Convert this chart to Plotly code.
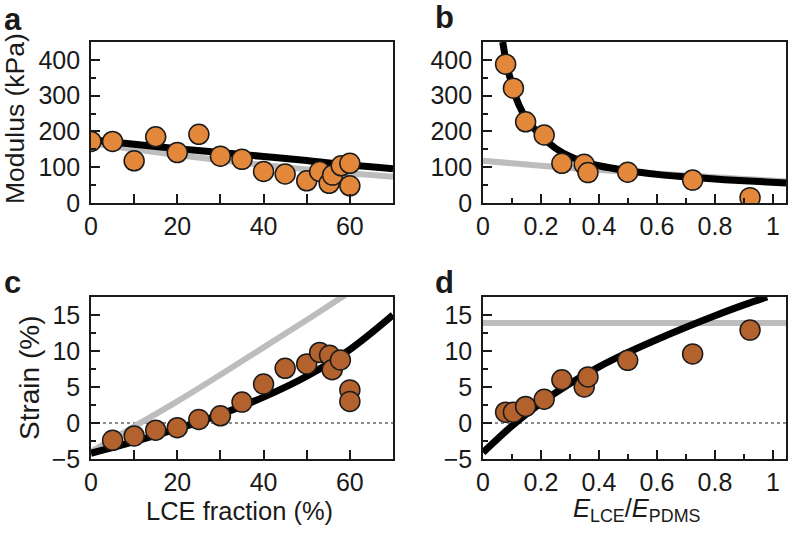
import plotly.graph_objects as go

# ---------------- data ----------------
lce_frac_a = [0, 5, 10, 15, 20, 25, 30, 35, 40, 45, 50, 53, 55.2, 56, 58, 60, 60]
modulus_a = [172, 172, 118, 185, 141, 192, 131, 122, 88, 81, 62, 88, 55, 78, 104, 111, 48]

fit_frac = [0, 10, 20, 30, 40, 50, 60, 70]
modulus_fit_black = [177, 164, 152, 141, 130, 119, 106, 96]
modulus_fit_gray = [168, 150, 134, 120, 106, 94, 83, 73]

ratio = [0.078, 0.105, 0.147, 0.211, 0.272, 0.349, 0.362, 0.499, 0.723, 0.921]
modulus_b = [388, 321, 227, 190, 111, 108, 85, 86, 64, 15]

ratio_fit_b = [0.068, 0.08, 0.1, 0.125, 0.15, 0.2, 0.25, 0.3, 0.35, 0.4, 0.5, 0.6, 0.7, 0.8, 0.9, 1.045]
modulus_fit_b_black = [450, 395, 330, 272, 235, 188, 153, 130, 115, 104, 90, 80, 73, 67, 62, 56]
ratio_fit_b_gray = [0, 0.1, 0.2, 0.3, 0.4, 0.5, 0.6, 0.7, 0.8, 0.9, 1.045]
modulus_fit_b_gray = [118, 111, 104, 98, 92, 87, 82, 77, 72, 67, 61]

lce_frac_c = [5, 10, 15, 20, 25, 30, 35, 40, 45, 50, 53, 55.3, 55.9, 57.8, 60, 60]
strain_c = [-2.4, -1.8, -1.0, -0.65, 0.5, 1.0, 2.9, 5.4, 7.6, 8.2, 9.8, 9.4, 7.4, 8.75, 4.6, 3.0]
strain_fit_c_black = [-4.2, -2.6, -0.8, 1.2, 3.6, 6.5, 10.2, 15.0]
fit_frac_c_gray = [0, 10, 20, 30, 40, 50, 60]
strain_fit_c_gray = [-4.0, -0.5, 3.0, 6.7, 10.5, 14.3, 18.2]

strain_d = [1.5, 1.5, 2.3, 3.3, 6.0, 5.0, 6.4, 8.7, 9.6, 12.9]
ratio_fit_d = [0, 0.1, 0.2, 0.3, 0.4, 0.5, 0.6, 0.7, 0.8, 0.9, 0.98]
strain_fit_d_black = [-4.1, -0.4, 2.8, 5.5, 7.8, 9.8, 11.6, 13.3, 14.9, 16.4, 17.5]
ratio_fit_d_gray = [0, 1.045]
strain_fit_d_gray = [13.9, 13.9]

x_ticks_frac = [0, 20, 40, 60]
x_ticks_ratio = [0, 0.2, 0.4, 0.6, 0.8, 1]
x_ticklabels_ratio = ["0", "0.2", "0.4", "0.6", "0.8", "1"]
y_ticks_mod = [0, 100, 200, 300, 400]
y_ticks_strain = [-5, 0, 5, 10, 15]

# ---------------- styles ----------------
ORANGE = "#E3873A"
BROWN = "#B3622E"
GRAY = "#BDBDBD"
INK = "#1a1a1a"
FONT = "Liberation Sans, Arial, Helvetica, sans-serif"

fig = go.Figure()


def line(x, y, color, width, xa, ya):
    fig.add_trace(go.Scatter(x=x, y=y, mode="lines", line=dict(color=color, width=width, shape="spline"),
                             xaxis=xa, yaxis=ya, hoverinfo="skip", showlegend=False))


def pts(x, y, color, xa, ya):
    fig.add_trace(go.Scatter(x=x, y=y, mode="markers",
                             marker=dict(size=20, color=color, line=dict(color=INK, width=1.5)),
                             xaxis=xa, yaxis=ya, showlegend=False))


# panel a
line(fit_frac, modulus_fit_gray, GRAY, 6, "x", "y")
line(fit_frac, modulus_fit_black, "black", 7, "x", "y")
pts(lce_frac_a, modulus_a, ORANGE, "x", "y")
# panel b
line(ratio_fit_b_gray, modulus_fit_b_gray, GRAY, 6, "x2", "y2")
line(ratio_fit_b, modulus_fit_b_black, "black", 7, "x2", "y2")
pts(ratio, modulus_b, ORANGE, "x2", "y2")
# panel c
line(fit_frac_c_gray, strain_fit_c_gray, GRAY, 6, "x3", "y3")
line(fit_frac, strain_fit_c_black, "black", 7, "x3", "y3")
pts(lce_frac_c, strain_c, BROWN, "x3", "y3")
# panel d
line(ratio_fit_d_gray, strain_fit_d_gray, GRAY, 6, "x4", "y4")
line(ratio_fit_d, strain_fit_d_black, "black", 7, "x4", "y4")
pts(ratio, strain_d, BROWN, "x4", "y4")

# zero reference lines (dotted)
for xr, yr in (("x3 domain", "y3"), ("x4 domain", "y4")):
    fig.add_shape(type="line", xref=xr, yref=yr, x0=0, x1=1, y0=0, y1=0,
                  line=dict(color=INK, width=1, dash="dot"), layer="below")

L = [91 / 788, 393 / 788]
R = [483 / 788, 786 / 788]
T = [1 - 203 / 533, 1 - 42 / 533]
B = [1 - 459 / 533, 1 - 297 / 533]

axis_common = dict(showgrid=False, zeroline=False, showline=True, linecolor=INK, linewidth=1.6,
                   mirror=True, ticks="inside", tickcolor=INK, tickwidth=1.5, automargin=False,
                   tickfont=dict(family=FONT, size=25, color=INK))


def xax(dom, rng, tickvals, ticktext, minor_dtick, minor_len, anchor):
    return dict(axis_common, domain=dom, range=rng, tickmode="array", tickvals=tickvals,
                ticktext=ticktext, ticklen=9, anchor=anchor, ticklabelstandoff=0,
                minor=dict(tickmode="linear", tick0=0, dtick=minor_dtick, ticks="inside",
                           ticklen=minor_len, tickcolor=INK, tickwidth=1.5, showgrid=False))


def yax(dom, rng, tickvals, minor_dtick, anchor):
    return dict(axis_common, domain=dom, range=rng, tickmode="array", tickvals=tickvals,
                ticklen=9, anchor=anchor, ticklabelstandoff=4,
                minor=dict(tickmode="linear", tick0=0, dtick=minor_dtick, ticks="inside",
                           ticklen=5, tickcolor=INK, tickwidth=1.5, showgrid=False))


fig.update_layout(
    width=788, height=533, margin=dict(l=0, r=0, t=0, b=0),
    paper_bgcolor="white", plot_bgcolor="white", showlegend=False,
    font=dict(family=FONT, size=25, color=INK),
    xaxis=xax(L, [0, 70], x_ticks_frac, [str(v) for v in x_ticks_frac], 10, 9, "y"),
    yaxis=yax(T, [0, 450], y_ticks_mod, 50, "x"),
    xaxis2=xax(R, [0, 1.045], x_ticks_ratio, x_ticklabels_ratio, 0.1, 5, "y2"),
    yaxis2=yax(T, [0, 450], y_ticks_mod, 50, "x2"),
    xaxis3=xax(L, [0, 70], x_ticks_frac, [str(v) for v in x_ticks_frac], 10, 9, "y3"),
    yaxis3=yax(B, [-5, 17.5], y_ticks_strain, 2.5, "x3"),
    xaxis4=xax(R, [0, 1.045], x_ticks_ratio, x_ticklabels_ratio, 0.1, 5, "y4"),
    yaxis4=yax(B, [-5, 17.5], y_ticks_strain, 2.5, "x4"),
)

ann = []
for letter, x, y in (("a", 2, 19), ("b", 433, 17), ("c", 2, 282), ("d", 433, 282)):
    ann.append(dict(text=f"<b>{letter}</b>", x=x / 788, y=1 - y / 533, xref="paper", yref="paper",
                    xanchor="left", yanchor="middle", showarrow=False,
                    font=dict(family=FONT, size=31, color=INK)))
ann.append(dict(text="Modulus (kPa)", x=15 / 788, y=1 - 119 / 533, xref="paper", yref="paper",
                textangle=-90, xanchor="center", yanchor="middle", showarrow=False,
                font=dict(family=FONT, size=26.5, color=INK)))
ann.append(dict(text="Strain (%)", x=29 / 788, y=1 - 378 / 533, xref="paper", yref="paper",
                textangle=-90, xanchor="center", yanchor="middle", showarrow=False,
                font=dict(family=FONT, size=28, color=INK)))
ann.append(dict(text="LCE fraction (%)", x=239 / 788, y=1 - 511 / 533, xref="paper", yref="paper",
                xanchor="center", yanchor="middle", showarrow=False,
                font=dict(family=FONT, size=25.5, color=INK)))
ann.append(dict(text="<i>E</i><sub>LCE</sub>/<i>E</i><sub>PDMS</sub>", x=636 / 788, y=1 - 510 / 533,
                xref="paper", yref="paper", xanchor="center", yanchor="middle", showarrow=False,
                font=dict(family=FONT, size=25.5, color=INK)))
fig.update_layout(annotations=ann)

fig.write_html("out.html", config={"displayModeBar": False},
               post_script="document.body.style.margin='0px';document.body.style.overflow='hidden';")
